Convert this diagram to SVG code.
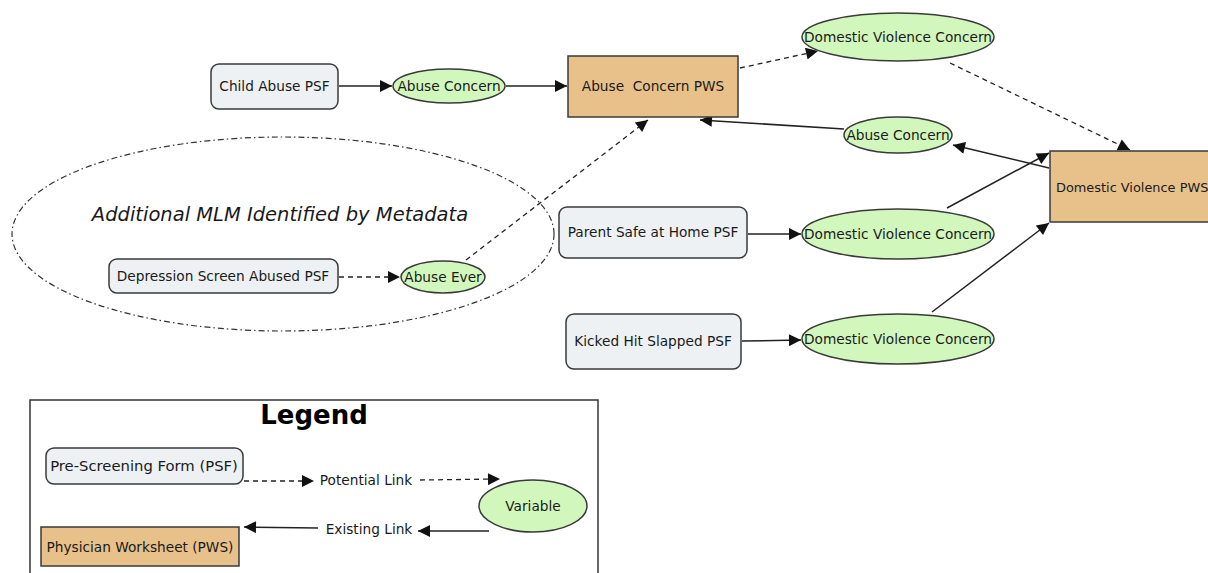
<svg xmlns="http://www.w3.org/2000/svg" width="1208" height="573" viewBox="0 0 1208 573">
<defs>
<marker id="ah" viewBox="0 0 10 10" refX="10" refY="5" markerWidth="14" markerHeight="12" markerUnits="userSpaceOnUse" orient="auto"><path d="M0,0 L10,5 L0,10 z" fill="#111"/></marker>
<style>
.psf{fill:#edf1f4;stroke:#3a3a3a;stroke-width:1.5}
.pws{fill:#e8c18a;stroke:#3a3a3a;stroke-width:1.5}
.var{fill:#d2f7bd;stroke:#3a3a3a;stroke-width:1.5}
.t{font-family:"DejaVu Sans",Verdana,sans-serif;font-size:13.7px;fill:#1a1a1a;text-anchor:middle;dominant-baseline:central}
.ln{stroke:#222;stroke-width:1.5;fill:none}
.dl{stroke:#222;stroke-width:1.3;fill:none;stroke-dasharray:5,4}
</style>
</defs>
<rect width="1208" height="573" fill="#fff"/>
<g id="group-mlm">
<ellipse cx="283" cy="234" rx="271" ry="97" fill="none" stroke="#333" stroke-width="1.2" stroke-dasharray="6,3,1.5,3"/>
<text x="280" y="214" font-family="DejaVu Sans,Verdana,sans-serif" font-size="19.5" font-style="italic" fill="#1a1a1a" text-anchor="middle" dominant-baseline="central">Additional MLM Identified by Metadata</text>
</g>
<g id="connectors">
<line class="ln" x1="339" y1="86" x2="392" y2="86" marker-end="url(#ah)"/>
<line class="ln" x1="506" y1="86" x2="567" y2="86" marker-end="url(#ah)"/>
<line class="dl" x1="740" y1="68" x2="818" y2="51" marker-end="url(#ah)"/>
<line class="dl" x1="950" y1="63" x2="1130" y2="150" marker-end="url(#ah)"/>
<line class="ln" x1="844" y1="129" x2="700" y2="120" marker-end="url(#ah)"/>
<line class="ln" x1="1049" y1="168" x2="953" y2="145" marker-end="url(#ah)"/>
<line class="ln" x1="748" y1="234" x2="801" y2="234" marker-end="url(#ah)"/>
<line class="ln" x1="947" y1="208" x2="1049" y2="153" marker-end="url(#ah)"/>
<line class="ln" x1="742" y1="341" x2="801" y2="340" marker-end="url(#ah)"/>
<line class="ln" x1="932" y1="312" x2="1049" y2="223" marker-end="url(#ah)"/>
<line class="dl" x1="339" y1="277" x2="400" y2="277" marker-end="url(#ah)"/>
<line class="dl" x1="466" y1="260" x2="648" y2="120" marker-end="url(#ah)"/>
</g>
<g id="child-abuse-psf"><rect class="psf" x="211" y="64" width="127" height="45" rx="8"/><text class="t" x="274.5" y="86">Child Abuse PSF</text></g>
<g id="abuse-concern-1"><ellipse class="var" cx="449" cy="86" rx="56" ry="17"/><text class="t" x="449" y="86">Abuse Concern</text></g>
<g id="abuse-concern-pws"><rect class="pws" x="568" y="56" width="170" height="61"/><text class="t" x="653" y="86" xml:space="preserve">Abuse  Concern PWS</text></g>
<g id="dv-concern-top"><ellipse class="var" cx="898" cy="37" rx="96" ry="24"/><text class="t" x="898" y="37">Domestic Violence Concern</text></g>
<g id="abuse-concern-2"><ellipse class="var" cx="898" cy="135" rx="54" ry="18"/><text class="t" x="898" y="135">Abuse Concern</text></g>
<g id="dv-pws"><rect class="pws" x="1050" y="151" width="170" height="71"/><text class="t" x="1056" y="187" style="text-anchor:start;font-size:12.9px">Domestic Violence PWS</text></g>
<g id="parent-safe-psf"><rect class="psf" x="559" y="207" width="188" height="51" rx="8"/><text class="t" x="653" y="232">Parent Safe at Home PSF</text></g>
<g id="dv-concern-mid"><ellipse class="var" cx="898" cy="234" rx="96" ry="25"/><text class="t" x="898" y="234">Domestic Violence Concern</text></g>
<g id="kicked-psf"><rect class="psf" x="566" y="314" width="175" height="55" rx="8"/><text class="t" x="653" y="341">Kicked Hit Slapped PSF</text></g>
<g id="dv-concern-low"><ellipse class="var" cx="898" cy="339" rx="96" ry="25"/><text class="t" x="898" y="339">Domestic Violence Concern</text></g>
<g id="depression-psf"><rect class="psf" x="109" y="259" width="229" height="34" rx="8"/><text class="t" x="223" y="276">Depression Screen Abused PSF</text></g>
<g id="abuse-ever"><ellipse class="var" cx="443" cy="277" rx="42" ry="16"/><text class="t" x="443" y="277">Abuse Ever</text></g>
<g id="legend">
<rect x="30" y="400" width="568" height="180" fill="#fff" stroke="#333" stroke-width="1.5"/>
<text x="314" y="415" font-family="DejaVu Sans,Verdana,sans-serif" font-size="26" font-weight="bold" fill="#000" text-anchor="middle" dominant-baseline="central">Legend</text>
<rect class="psf" x="46" y="448" width="197" height="36" rx="8"/><text class="t" x="144" y="465" style="font-size:14.8px">Pre-Screening Form (PSF)</text>
<line class="dl" x1="244" y1="481" x2="314" y2="481" marker-end="url(#ah)"/>
<text class="t" x="366" y="480">Potential Link</text>
<line class="dl" x1="420" y1="480" x2="500" y2="479" marker-end="url(#ah)"/>
<ellipse class="var" cx="533" cy="506" rx="54" ry="26"/><text class="t" x="533" y="506">Variable</text>
<line class="ln" x1="489" y1="531" x2="418" y2="531" marker-end="url(#ah)"/>
<text class="t" x="369" y="529">Existing Link</text>
<line class="ln" x1="318" y1="528" x2="244" y2="527" marker-end="url(#ah)"/>
<rect class="pws" x="41" y="527" width="198" height="39"/><text class="t" x="140" y="547">Physician Worksheet (PWS)</text>
</g>
</svg>
